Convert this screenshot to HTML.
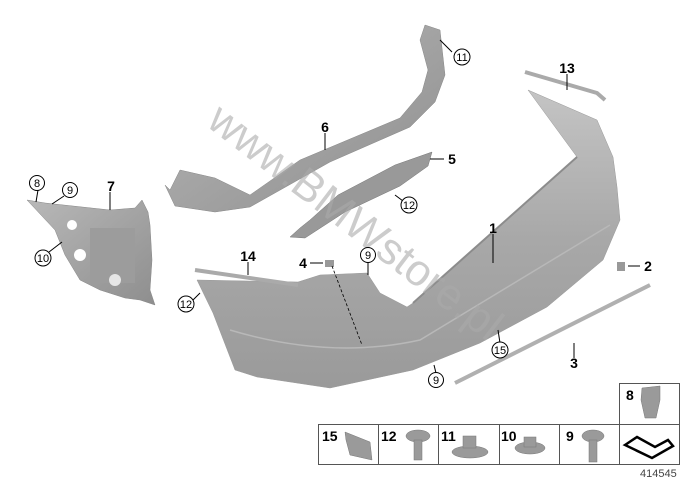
<!DOCTYPE html>
<html><head><meta charset="utf-8"><style>
html,body{margin:0;padding:0;background:#fff;width:686px;height:484px;overflow:hidden}
svg{display:block}
text{font-family:"Liberation Sans",sans-serif;font-weight:bold;fill:#000}
.c{fill:#fff;stroke:#000;stroke-width:1}
.n{font-size:11px;font-weight:normal;text-anchor:middle}
.b{font-size:14px;text-anchor:middle}
.l{stroke:#000;stroke-width:1;fill:none}
</style></head><body>
<svg width="686" height="484" viewBox="0 0 686 484" xmlns="http://www.w3.org/2000/svg">
<defs>
<linearGradient id="g" x1="0" y1="0" x2="0" y2="1">
<stop offset="0" stop-color="#c4c4c4"/><stop offset="0.5" stop-color="#a8a8a8"/><stop offset="1" stop-color="#9a9a9a"/></linearGradient>
<linearGradient id="g2" x1="0" y1="0" x2="1" y2="1">
<stop offset="0" stop-color="#b8b8b8"/><stop offset="1" stop-color="#8e8e8e"/></linearGradient>
</defs>
<!-- part 7 -->
<polygon points="27,200 45,203 110,210 135,208 142,200 148,212 150,225 152,260 150,290 155,305 140,300 125,298 100,290 80,280 65,255 55,230" fill="url(#g2)" stroke="#888" stroke-width="0.5"/>
<rect x="90" y="228" width="45" height="55" fill="#9c9c9c"/>
<circle cx="72" cy="225" r="5" fill="#fff"/><circle cx="80" cy="255" r="6" fill="#fff"/><circle cx="115" cy="280" r="6" fill="#e6e6e6"/>
<!-- part 6 -->
<polygon points="170,190 180,170 215,178 250,195 300,160 400,118 422,92 428,70 420,40 425,25 440,30 445,75 435,102 410,127 330,162 250,207 215,212 175,206 165,185" fill="url(#g2)" stroke="#888" stroke-width="0.5"/>
<!-- part 5 -->
<polygon points="290,237 300,228 310,220 338,195 395,165 432,152 428,166 400,186 345,212 305,238" fill="#999" stroke="#777" stroke-width="0.5"/>
<!-- bumper -->
<polygon points="197,280 298,282 320,275 367,273 380,293 407,307 413,303 577,157 528,90 597,120 613,157 617,187 620,220 603,260 547,307 480,343 413,370 330,388 257,377 235,370 213,313" fill="url(#g)" stroke="#999" stroke-width="0.5"/>
<path d="M413,303 L577,157" stroke="#8c8c8c" stroke-width="2"/>
<path d="M230,330 Q330,360 420,340 L610,225" stroke="#b8b8b8" stroke-width="1.5" fill="none"/>
<!-- strips -->
<path d="M525,72 L597,93 L605,100" stroke="#aaa" stroke-width="4" fill="none"/>
<path d="M195,270 L298,285" stroke="#aaa" stroke-width="4"/>
<path d="M455,383 L650,285" stroke="#b0b0b0" stroke-width="4"/>
<rect x="325" y="260" width="9" height="7" fill="#999"/>
<rect x="617" y="262" width="8" height="9" fill="#999"/>
<path d="M332,266 L362,345" stroke="#000" stroke-width="0.8" stroke-dasharray="3,2"/>
<!-- watermark -->
<text x="205" y="125" transform="rotate(37.5 205 125)" style="font-size:44px;font-weight:normal;fill:#aaa;fill-opacity:0.6">www.BMWstore.pl</text>
<!-- leaders -->
<path class="l" d="M452,52 L440,40 M567,74 L567,90 M325,133 L325,150 M444,159 L430,159 M110,192 L110,210 M38,190 L36,202 M64,196 L52,204 M403,201 L395,195 M493,234 L493,263 M49,252 L62,242 M248,262 L248,275 M310,263 L323,263 M368,262 L368,275 M640,266 L628,266 M193,300 L200,293 M500,343 L498,330 M574,358 L574,343 M436,373 L434,365"/>
<!-- circles -->
<g>
<circle class="c" cx="462" cy="57" r="8"/><text class="n" x="462" y="61">11</text>
<circle class="c" cx="37" cy="183" r="7.5"/><text class="n" x="37" y="187">8</text>
<circle class="c" cx="70" cy="190" r="7.5"/><text class="n" x="70" y="194">9</text>
<circle class="c" cx="409" cy="205" r="8"/><text class="n" x="409" y="209">12</text>
<circle class="c" cx="43" cy="258" r="8"/><text class="n" x="43" y="262">10</text>
<circle class="c" cx="368" cy="255" r="7.5"/><text class="n" x="368" y="259">9</text>
<circle class="c" cx="186" cy="304" r="8"/><text class="n" x="186" y="308">12</text>
<circle class="c" cx="500" cy="350" r="8"/><text class="n" x="500" y="354">15</text>
<circle class="c" cx="436" cy="380" r="7.5"/><text class="n" x="436" y="384">9</text>
</g>
<text class="b" x="567" y="73">13</text>
<text class="b" x="325" y="132">6</text>
<text class="b" x="452" y="164">5</text>
<text class="b" x="111" y="191">7</text>
<text class="b" x="493" y="233">1</text>
<text class="b" x="248" y="261">14</text>
<text class="b" x="303" y="268">4</text>
<text class="b" x="648" y="271">2</text>
<text class="b" x="574" y="368">3</text>
<!-- table -->
<g fill="none" stroke="#555" stroke-width="1">
<rect x="318.5" y="424.5" width="361" height="40"/>
<path d="M378.5,424 V465 M438.5,424 V465 M499.5,424 V465 M559.5,424 V465 M619.5,424 V465"/>
<rect x="619.5" y="383.5" width="60" height="41"/>
</g>
<text x="322" y="441" style="font-size:14px">15</text>
<text x="381" y="441" style="font-size:14px">12</text>
<text x="441" y="441" style="font-size:14px">11</text>
<text x="501" y="441" style="font-size:14px">10</text>
<text x="566" y="441" style="font-size:14px">9</text>
<text x="626" y="400" style="font-size:14px">8</text>
<g fill="#9a9a9a" stroke="#777" stroke-width="0.5">
<path d="M345,432 L370,442 L372,460 L350,455 L346,440 Z"/>
<ellipse cx="418" cy="436" rx="12" ry="6"/><rect x="414" y="440" width="8" height="20"/>
<ellipse cx="470" cy="452" rx="18" ry="6"/><rect x="463" y="436" width="13" height="12"/>
<ellipse cx="530" cy="448" rx="15" ry="6"/><rect x="524" y="437" width="12" height="10"/>
<ellipse cx="593" cy="436" rx="11" ry="6"/><rect x="589" y="440" width="8" height="22"/>
<path d="M642,388 L660,386 L660,400 L656,418 L645,418 L641,400 Z"/>
</g>
<path d="M625,445 L637,437 L655,447 L668,440 L673,446 L652,458 Z" fill="#fff" stroke="#000" stroke-width="2.5"/>
<text x="640" y="477" style="font-size:11px;font-weight:normal;fill:#444">414545</text>
</svg>
</body></html>
